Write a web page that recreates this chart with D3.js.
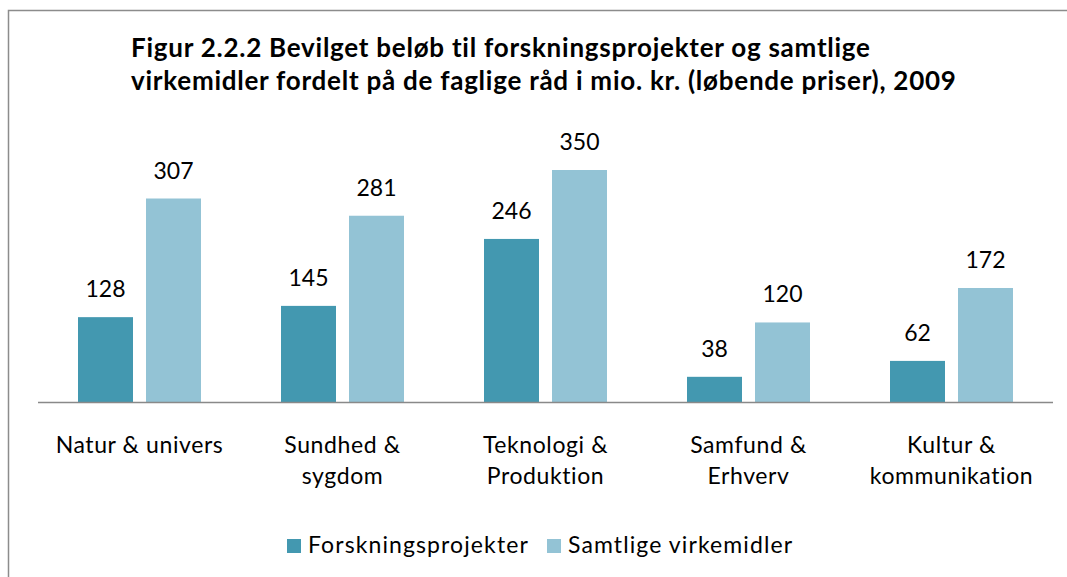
<!DOCTYPE html>
<html lang="da">
<head>
<meta charset="UTF-8">
<title>Figur 2.2.2</title>
<style>
  body { margin: 0; background: #fff; }
  text { font-family: Lato, "Open Sans", sans-serif; fill: #000; }
</style>
</head>
<body>
<svg id="svg" width="1067" height="577"></svg>
<script src="https://d3js.org/d3.v7.min.js"></script>
<script>
  // data
  const categories = [
    ['Natur & univers'],
    ['Sundhed &', 'sygdom'],
    ['Teknologi &', 'Produktion'],
    ['Samfund &', 'Erhverv'],
    ['Kultur &', 'kommunikation']
  ]
  const seriesNames = ['Forskningsprojekter', 'Samtlige virkemidler']
  const forskning = [128, 145, 246, 38, 62]
  const samtlige = [307, 281, 350, 120, 172]
  const titleLines = [
    'Figur 2.2.2 Bevilget beløb til forskningsprojekter og samtlige',
    'virkemidler fordelt på de faglige råd i mio. kr. (løbende priser), 2009'
  ]
  const colors = ['#4398b0', '#93c3d5']

  const svg = d3.select('#svg')
  const baseY = 402

  // chart frame (only top and left edges visible)
  svg.append('path')
    .attr('d', 'M8.5,577 L8.5,10.5 L1067,10.5')
    .attr('fill', 'none')
    .attr('stroke', '#8c8c8c')
    .attr('stroke-width', 1.5)

  // title
  svg.append('text')
    .attr('x', 131)
    .attr('y', 57)
    .style('font-weight', 'bold')
    .style('font-size', '26px')
    .style('letter-spacing', '0.75px')
    .selectAll('tspan')
    .data(titleLines)
    .enter()
    .append('tspan')
    .attr('x', 131)
    .attr('dy', (d, i) => i === 0 ? 0 : 33)
    .text(d => d)

  const x0 = d3.scaleBand()
    .domain(d3.range(categories.length))
    .range([38, 1053])

  const y = d3.scaleLinear()
    .domain([0, 350])
    .range([baseY, baseY - 232])

  const barW = 55
  const gap = 13
  const offset = () => (x0.bandwidth() - (2 * barW + gap)) / 2

  const rows = categories.map((c, i) => ({ i, values: [forskning[i], samtlige[i]] }))

  const groups = svg.selectAll('g.grp')
    .data(rows)
    .enter()
    .append('g')
    .attr('class', 'grp')
    .attr('transform', d => `translate(${x0(d.i) + offset()},0)`)

  groups.selectAll('rect')
    .data(d => d.values)
    .enter()
    .append('rect')
    .attr('x', (d, j) => j * (barW + gap))
    .attr('y', d => y(d))
    .attr('width', barW)
    .attr('height', d => baseY - y(d))
    .attr('fill', (d, j) => colors[j])

  groups.selectAll('text.val')
    .data(d => d.values)
    .enter()
    .append('text')
    .attr('class', 'val')
    .attr('x', (d, j) => j * (barW + gap) + barW / 2)
    .attr('y', d => y(d) - 20)
    .attr('text-anchor', 'middle')
    .style('font-size', '23px')
    .text(d => d)

  // axis line
  svg.append('line')
    .attr('x1', 38)
    .attr('x2', 1053)
    .attr('y1', baseY + 0.5)
    .attr('y2', baseY + 0.5)
    .attr('stroke', '#898989')
    .attr('stroke-width', 1.5)

  // category labels
  svg.selectAll('text.cat')
    .data(categories)
    .enter()
    .append('text')
    .attr('class', 'cat')
    .attr('text-anchor', 'middle')
    .style('font-size', '23px')
    .style('letter-spacing', '0.6px')
    .attr('y', 453)
    .selectAll('tspan')
    .data((d, i) => d.map(t => ({ t, i })))
    .enter()
    .append('tspan')
    .attr('x', d => x0(d.i) + x0.bandwidth() / 2)
    .attr('dy', (d, k) => k === 0 ? 0 : 31)
    .text(d => d.t)

  // legend
  const legX = [287, 547]
  const leg = svg.selectAll('g.leg')
    .data(seriesNames)
    .enter()
    .append('g')
    .attr('class', 'leg')
    .attr('transform', (d, i) => `translate(${legX[i]},539)`)

  leg.append('rect')
    .attr('width', 14)
    .attr('height', 14)
    .attr('fill', (d, i) => colors[i])

  leg.append('text')
    .attr('x', 21)
    .attr('y', 14)
    .style('font-size', '23px')
    .style('letter-spacing', '1.1px')
    .text(d => d)
</script>
</body>
</html>
